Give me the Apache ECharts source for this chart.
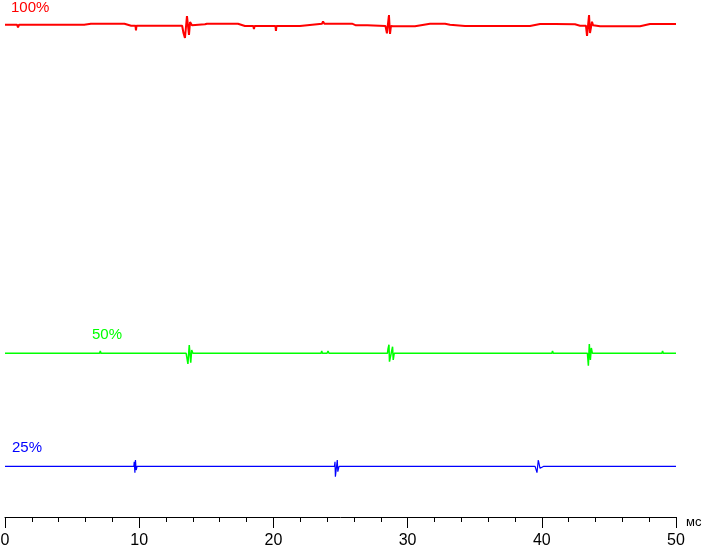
<!DOCTYPE html>
<html>
<head>
<meta charset="utf-8">
<script src="https://cdn.jsdelivr.net/npm/echarts@6/dist/echarts.min.js"></script>
<style>
html,body{margin:0;padding:0;background:#fff;}
#chart{width:703px;height:545px;}
</style>
</head>
<body>
<div id="chart"></div>
<script>
// x: time in ms, y: brightness (arbitrary units)
const xTicks = [0, 10, 20, 30, 40, 50];
const seriesNames = ['100%', '50%', '25%'];

const red100 = [
  [0,492.3],[0.9,492.3],[0.97,489.5],[1.05,492.3],
  [2.5,492.3],[2.56,491],[2.62,492.3],
  [4.0,492.3],[4.05,493.5],[4.1,492.3],
  [5.9,492.3],[6.4,493.3],
  [7.2,493.3],[7.25,491.5],[7.3,493.3],
  [8.9,493.3],[9.4,491.3],
  [9.72,491.3],[9.76,486.5],[9.8,491.3],
  [11.5,491.3],[11.55,492.5],[11.6,491.3],
  [13.2,491.3],
  [13.3,484],[13.41,479],[13.56,501],[13.71,482],[13.79,495],[13.93,491.7],
  [14.9,492.7],[15.05,493.3],
  [16.0,493.3],[16.05,494.3],[16.1,493.3],
  [17.36,493.3],[17.88,491],
  [18.5,491],[18.55,488],[18.6,491],
  [20.15,491],[20.19,486],[20.23,491],
  [21.98,491],
  [23.62,493.3],[23.7,495.5],[23.8,493.3],
  [25.86,493.3],[26.15,491.7],
  [27.0,491.7],[27.05,490],[27.1,491.7],
  [28.35,491],
  [28.46,483.7],[28.61,502],[28.69,483],[28.76,491],[28.91,490.7],
  [30.55,490.7],[31.67,493.3],
  [32.79,493.3],[33.16,492.3],[34.28,491],
  [36.0,491],[36.05,489.5],[36.1,491],
  [39.12,491],[39.87,493],
  [41.0,493],[41.05,494.5],[41.1,493],
  [42.47,492.7],[42.85,491.3],[43.29,491.3],
  [43.37,481],[43.52,502],[43.59,484],[43.74,495.3],[43.82,491.7],
  [44.34,490.7],
  [45.5,490.7],[45.55,489.5],[45.6,490.7],
  [47.32,490.7],[48.06,493],
  [49.0,493],[49.05,494.5],[49.1,493],
  [50,493]
];

const green50 = [
  [0,163.7],
  [1.5,163.7],[1.55,165],[1.6,163.7],
  [5.0,163.7],[5.05,165],[5.1,163.7],
  [7.05,163.7],[7.1,166],[7.15,163.7],
  [9.5,163.7],[9.55,165],[9.6,163.7],
  [11.8,163.7],[11.85,165],[11.9,163.7],
  [13.5,163.7],[13.55,165.5],
  [13.63,153],[13.73,172],[13.84,154.3],[13.91,167],[14.0,163.7],
  [15.2,163.7],[15.25,165],[15.3,163.7],
  [17.3,163.7],[17.35,165],[17.4,163.7],
  [19.7,163.7],[19.75,165],[19.8,163.7],
  [20.9,163.7],[20.95,165],[21.0,163.7],
  [23.55,163.7],[23.6,166],[23.65,163.7],
  [24.0,163.7],[24.07,166],[24.14,163.7],
  [26.0,163.7],[26.05,165],[26.1,163.7],
  [28.5,163.7],[28.54,168],[28.61,172.3],[28.65,155.3],[28.76,155.3],[28.88,170.3],[28.93,157],[29.0,163.7],
  [29.6,163.7],[29.65,165],[29.7,163.7],
  [32.55,163.7],[32.6,165.5],[32.7,163.7],
  [35.5,163.7],[35.55,165],[35.6,163.7],
  [38.2,163.7],[38.25,165],[38.3,163.7],
  [40.75,163.7],[40.8,166],[40.85,163.7],
  [41.4,163.7],[41.45,165.5],[41.5,163.7],
  [43.4,163.7],
  [43.47,151.3],[43.54,173],[43.62,157],[43.69,169],[43.77,163.7],
  [45.5,163.7],[45.55,165],[45.6,163.7],
  [48.25,163.7],[48.3,165],[48.35,163.7],
  [48.95,163.7],[49.0,166],[49.05,163.7],
  [50,163.7]
];

const blue25 = [
  [0,50.7],
  [0.45,50.7],[0.5,52],[0.55,50.7],
  [0.62,50.7],[0.67,49.4],[0.72,50.7],
  [1.86,50.7],[1.91,52],[1.96,50.7],
  [3.8,50.7],[3.85,49.4],[3.9,50.7],
  [6.0,50.7],[6.04,49.4],[6.08,50.7],
  [6.75,50.7],[6.8,49.4],[6.85,50.7],
  [7.53,50.7],[7.58,49.4],[7.63,50.7],
  [8.8,50.7],[8.85,52],[8.9,50.7],
  [9.6,50.7],[9.63,55.3],[9.68,44.3],[9.72,57],[9.78,47],[9.84,50.7],
  [15.8,50.7],[15.85,49.4],[15.9,50.7],
  [17.25,50.7],[17.3,52],[17.35,50.7],
  [18.0,50.7],[18.05,52],[18.1,50.7],
  [18.6,50.7],[18.65,52],[18.7,50.7],
  [22.55,50.7],[22.6,49.4],[22.65,50.7],
  [23.15,50.7],[23.2,49.4],[23.25,50.7],
  [24.55,50.7],[24.59,55.3],[24.62,40.3],[24.76,57],[24.8,45.3],[24.89,50.7],
  [25.85,50.7],[25.9,52],[25.95,50.7],
  [26.45,50.7],[26.5,52],[26.55,50.7],
  [28.15,50.7],[28.2,49.4],[28.25,50.7],
  [30.0,50.7],[30.05,49.4],[30.1,50.7],
  [31.1,50.7],[31.15,49.4],[31.2,50.7],
  [31.75,50.7],[31.8,49.4],[31.85,50.7],
  [34.1,50.7],[34.15,52],[34.2,50.7],
  [35.72,50.7],[35.77,52],[35.82,50.7],
  [36.85,50.7],[36.9,49.4],[36.95,50.7],
  [38.25,50.7],[38.3,49.4],[38.35,50.7],
  [39.5,50.7],[39.55,52],[39.64,44.3],[39.74,57],[39.87,48.7],[39.95,50.7],
  [40.15,50.7],[40.2,49.4],[40.25,50.7],
  [41.3,50.7],[41.36,52],[41.42,50.7],
  [42.0,50.7],[42.05,52],[42.1,50.7],
  [42.7,50.7],[42.75,52],[42.8,50.7],
  [45.35,50.7],[45.4,52],[45.45,50.7],
  [46.25,50.7],[46.3,49.4],[46.35,50.7],
  [47.15,50.7],[47.2,49.4],[47.25,50.7],
  [47.95,50.7],[48.0,49.4],[48.05,50.7],
  [49.25,50.7],[49.3,49.4],[49.35,50.7],
  [50,50.7]
];

const chart = echarts.init(document.getElementById('chart'), null, {renderer: 'canvas'});
const font = '"Liberation Sans", Arial, sans-serif';
const lineSeries = (name, data, color, width) => ({
  name, type: 'line', data, showSymbol: false, symbol: 'none',
  lineStyle: {color, width}, itemStyle: {color}, z: 3
});

chart.setOption({
  animation: false,
  backgroundColor: '#ffffff',
  grid: {left: 5, right: 27, top: 0, bottom: 28, containLabel: false, outerBoundsMode: 'none'},
  xAxis: {
    type: 'value', min: xTicks[0], max: xTicks[xTicks.length - 1], interval: 10,
    name: 'мс', nameLocation: 'end', nameGap: 10,
    nameTextStyle: {color: '#000', fontSize: 13, fontFamily: font, verticalAlign: 'top', lineHeight: 10},
    axisLine: {show: true, onZero: false, lineStyle: {color: '#000', width: 1}},
    axisTick: {show: true, length: 11, lineStyle: {color: '#000', width: 1}},
    minorTick: {show: true, splitNumber: 5, length: 5, lineStyle: {color: '#000', width: 1}},
    splitLine: {show: false},
    axisLabel: {color: '#000', fontSize: 16, fontFamily: font, margin: 16}
  },
  yAxis: {type: 'value', min: 0, max: 517, show: false, splitLine: {show: false}},
  series: [
    lineSeries(seriesNames[0], red100, '#ff0000', 2),
    lineSeries(seriesNames[1], green50, '#00ff00', 1.5),
    lineSeries(seriesNames[2], blue25, '#0000ff', 1.2)
  ],
  graphic: [
    {type: 'text', left: 11, top: 0, style: {text: seriesNames[0], fill: '#ff0000', font: '15px ' + font}},
    {type: 'text', left: 92, top: 327, style: {text: seriesNames[1], fill: '#00ff00', font: '15px ' + font}},
    {type: 'text', left: 12, top: 440, style: {text: seriesNames[2], fill: '#0000ff', font: '15px ' + font}}
  ]
});
</script>
</body>
</html>
